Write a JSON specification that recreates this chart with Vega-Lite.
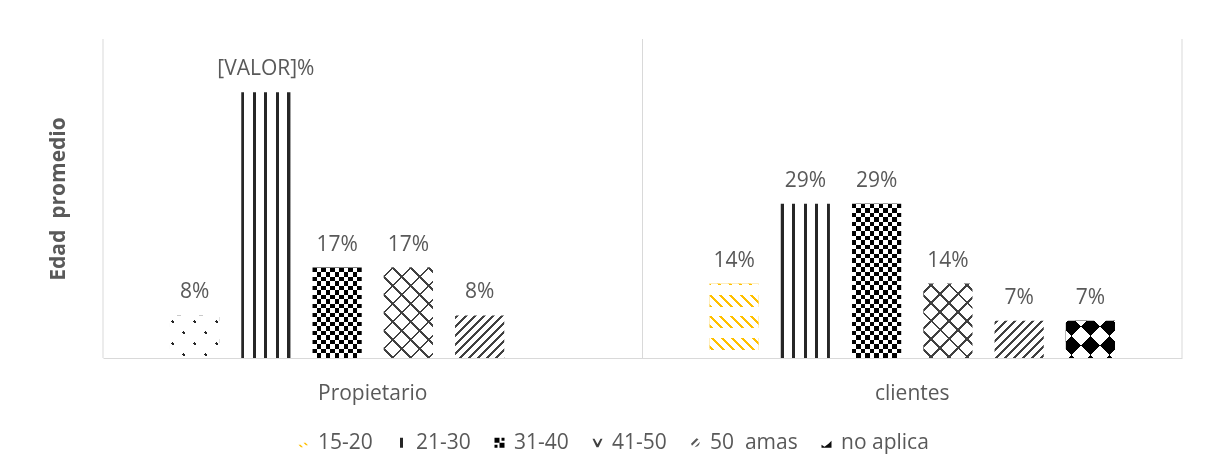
{
  "$schema": "https://vega.github.io/schema/vega-lite/v6.json",
  "width": 1079,
  "height": 319,
  "autosize": {"type": "none"},
  "padding": {"left": 103, "top": 39, "right": 27, "bottom": 118},
  "background": "#ffffff",
  "config": {
    "font": "Open Sans",
    "view": {"stroke": null}
  },
  "data": {
    "values": [
      {"grupo": "Propietario", "categoria": "15-20", "valor": 0.08, "etiqueta": "8%"},
      {"grupo": "Propietario", "categoria": "21-30", "valor": 0.50, "etiqueta": "[VALOR]%"},
      {"grupo": "Propietario", "categoria": "31-40", "valor": 0.17, "etiqueta": "17%"},
      {"grupo": "Propietario", "categoria": "41-50", "valor": 0.17, "etiqueta": "17%"},
      {"grupo": "Propietario", "categoria": "50 amas", "valor": 0.08, "etiqueta": "8%"},
      {"grupo": "Propietario", "categoria": "no aplica", "valor": 0, "etiqueta": ""},
      {"grupo": "clientes", "categoria": "15-20", "valor": 0.14, "etiqueta": "14%"},
      {"grupo": "clientes", "categoria": "21-30", "valor": 0.29, "etiqueta": "29%"},
      {"grupo": "clientes", "categoria": "31-40", "valor": 0.29, "etiqueta": "29%"},
      {"grupo": "clientes", "categoria": "41-50", "valor": 0.14, "etiqueta": "14%"},
      {"grupo": "clientes", "categoria": "50 amas", "valor": 0.07, "etiqueta": "7%"},
      {"grupo": "clientes", "categoria": "no aplica", "valor": 0.07, "etiqueta": "7%"}
    ]
  },
  "encoding": {
    "x": {
      "field": "grupo",
      "type": "nominal",
      "scale": {"domain": ["Propietario", "clientes"], "paddingInner": 0, "paddingOuter": 0},
      "axis": {
        "title": null,
        "labelFont": "Open Sans",
        "labelFontSize": 21,
        "labelColor": "#595959",
        "labelAngle": 0,
        "ticks": false,
        "labelPadding": 24,
        "domainColor": "#d9d9d9",
        "domainWidth": 1,
        "grid": false
      }
    }
  },
  "layer": [
    {
      "transform": [{"filter": "datum.categoria === '21-30'"}],
      "mark": {"type": "rule", "color": "#d9d9d9", "strokeWidth": 1},
      "encoding": {"x": {"field": "grupo", "type": "nominal", "bandPosition": 0}}
    },
    {
      "transform": [{"filter": "datum.categoria === '21-30' && datum.grupo === 'clientes'"}],
      "mark": {"type": "rule", "color": "#d9d9d9", "strokeWidth": 1},
      "encoding": {"x": {"field": "grupo", "type": "nominal", "bandPosition": 1}}
    },
    {
      "encoding": {
        "xOffset": {
          "field": "categoria",
          "type": "nominal",
          "scale": {
            "domain": ["15-20", "21-30", "31-40", "41-50", "50 amas", "no aplica"],
            "paddingInner": 0.31,
            "paddingOuter": 0.94
          }
        },
        "y": {
          "field": "valor",
          "type": "quantitative",
          "stack": null,
          "scale": {"domain": [0, 0.6], "nice": false, "zero": true},
          "axis": {
            "title": "Edad\u00a0 promedio",
            "titleFont": "Open Sans",
            "titleFontSize": 21,
            "titleFontWeight": "bold",
            "titleColor": "#595959",
            "titlePadding": 35,
            "labels": false,
            "ticks": false,
            "domain": false,
            "grid": false
          }
        }
      },
      "layer": [
        {
          "transform": [{"filter": "datum.valor > 1"}],
          "mark": {"type": "bar"},
          "encoding": {
            "color": {
              "field": "categoria",
              "type": "nominal",
              "scale": {
                "domain": ["15-20", "21-30", "31-40", "41-50", "50 amas", "no aplica"],
                "range": ["#ffc000", "#262626", "#000000", "#404040", "#595959", "#0d0d0d"]
              },
              "legend": {
                "orient": "none",
                "legendX": 190,
                "legendY": 393,
                "direction": "horizontal",
                "columns": 6,
                "title": null,
                "padding": 0,
                "labelFont": "Open Sans",
                "labelFontSize": 21,
                "labelColor": "#595959",
                "labelOffset": 4,
                "columnPadding": 18,
                "symbolSize": 100,
                "symbolStrokeWidth": 0,
                "labelExpr": "datum.label === '50 amas' ? '50\u00a0 amas' : datum.label",
                "encode": {
                  "symbols": {
                    "update": {
                      "shape": {
                        "signal": "datum.value === '15-20' ? 'M-1,0.4L-0.6,0.4L-0.1,0.9L-0.5,0.9Z M0,0L0.4,0L0.9,0.5L0.5,0.5Z' : datum.value === '21-30' ? 'M-0.3,-1H0.3V1H-0.3Z' : datum.value === '31-40' ? 'M-1,-1H0V0H-1Z M0,0H1V1H0Z M0.4,-1H1V-0.4H0.4Z M-1,0.4H-0.4V1H-1Z' : datum.value === '41-50' ? 'M-1,-0.8H-0.6L0,0.3L0.6,-0.8H1L0.2,0.9H-0.2Z' : datum.value === '50 amas' ? 'M-0.9,0.2L0.2,-0.9L0.6,-0.7L-0.7,0.6Z M-0.2,0.9L0.9,-0.2L0.7,0.4L0.4,0.7Z' : 'M-1,1V0.4L-0.4,0.8L0.4,0.2L1,-0.4V1Z'"
                      }
                    }
                  }
                }
              }
            }
          }
        },
        {
          "mark": {"type": "bar"},
          "encoding": {
            "fill": {
              "condition": [
                {
                  "test": "datum.categoria === '15-20' && datum.grupo === 'Propietario'",
                  "value": {"gradient": "linear", "x1": 0, "y1": 0, "x2": 1.0668, "y2": 0.9228, "stops": [
                    {"offset": 0, "color": "#ffffff"}, {"offset": 0.0785, "color": "#ffffff"}, {"offset": 0.0785, "color": "#262626"}, {"offset": 0.1178, "color": "#262626"}, {"offset": 0.1178, "color": "#ffffff"},
                    {"offset": 0.3184, "color": "#ffffff"}, {"offset": 0.3184, "color": "#262626"}, {"offset": 0.3577, "color": "#262626"}, {"offset": 0.3577, "color": "#ffffff"},
                    {"offset": 0.5583, "color": "#ffffff"}, {"offset": 0.5583, "color": "#262626"}, {"offset": 0.5976, "color": "#262626"}, {"offset": 0.5976, "color": "#ffffff"},
                    {"offset": 0.7982, "color": "#ffffff"}, {"offset": 0.7982, "color": "#262626"}, {"offset": 0.8375, "color": "#262626"}, {"offset": 0.8375, "color": "#ffffff"}, {"offset": 1, "color": "#ffffff"}
                  ]}
                },
                {
                  "test": "datum.categoria === '15-20'",
                  "value": {"gradient": "linear", "x1": 0, "y1": 0, "x2": 0, "y2": 1, "stops": [
                    {"offset": 0, "color": "#ffc000"}, {"offset": 0.02, "color": "#ffc000"}, {"offset": 0.02, "color": "#ffffff"},
                    {"offset": 0.148, "color": "#ffffff"}, {"offset": 0.148, "color": "#ffc000"}, {"offset": 0.309, "color": "#ffc000"}, {"offset": 0.309, "color": "#ffffff"},
                    {"offset": 0.437, "color": "#ffffff"}, {"offset": 0.437, "color": "#ffc000"}, {"offset": 0.598, "color": "#ffc000"}, {"offset": 0.598, "color": "#ffffff"},
                    {"offset": 0.726, "color": "#ffffff"}, {"offset": 0.726, "color": "#ffc000"}, {"offset": 0.887, "color": "#ffc000"}, {"offset": 0.887, "color": "#ffffff"}, {"offset": 1, "color": "#ffffff"}
                  ]}
                },
                {
                  "test": "datum.categoria === '21-30'",
                  "value": {"gradient": "linear", "x1": 0, "y1": 0, "x2": 1, "y2": 0, "stops": [
                    {"offset": 0, "color": "#262626"}, {"offset": 0.06, "color": "#262626"}, {"offset": 0.06, "color": "#ffffff"},
                    {"offset": 0.235, "color": "#ffffff"}, {"offset": 0.235, "color": "#262626"}, {"offset": 0.295, "color": "#262626"}, {"offset": 0.295, "color": "#ffffff"},
                    {"offset": 0.47, "color": "#ffffff"}, {"offset": 0.47, "color": "#262626"}, {"offset": 0.53, "color": "#262626"}, {"offset": 0.53, "color": "#ffffff"},
                    {"offset": 0.705, "color": "#ffffff"}, {"offset": 0.705, "color": "#262626"}, {"offset": 0.765, "color": "#262626"}, {"offset": 0.765, "color": "#ffffff"},
                    {"offset": 0.94, "color": "#ffffff"}, {"offset": 0.94, "color": "#262626"}, {"offset": 1, "color": "#262626"}
                  ]}
                },
                {
                  "test": "datum.categoria === '31-40' && datum.grupo === 'Propietario'",
                  "value": {"gradient": "linear", "x1": 0, "y1": 0, "x2": 0, "y2": 1, "stops": [
                    {"offset": 0, "color": "#000000"}, {"offset": 0.05, "color": "#000000"}, {"offset": 0.05, "color": "#ffffff"}, {"offset": 0.1, "color": "#ffffff"},
                    {"offset": 0.1, "color": "#000000"}, {"offset": 0.15, "color": "#000000"}, {"offset": 0.15, "color": "#ffffff"}, {"offset": 0.2, "color": "#ffffff"},
                    {"offset": 0.2, "color": "#000000"}, {"offset": 0.25, "color": "#000000"}, {"offset": 0.25, "color": "#ffffff"}, {"offset": 0.3, "color": "#ffffff"},
                    {"offset": 0.3, "color": "#000000"}, {"offset": 0.35, "color": "#000000"}, {"offset": 0.35, "color": "#ffffff"}, {"offset": 0.4, "color": "#ffffff"},
                    {"offset": 0.4, "color": "#000000"}, {"offset": 0.45, "color": "#000000"}, {"offset": 0.45, "color": "#ffffff"}, {"offset": 0.5, "color": "#ffffff"},
                    {"offset": 0.5, "color": "#000000"}, {"offset": 0.55, "color": "#000000"}, {"offset": 0.55, "color": "#ffffff"}, {"offset": 0.6, "color": "#ffffff"},
                    {"offset": 0.6, "color": "#000000"}, {"offset": 0.65, "color": "#000000"}, {"offset": 0.65, "color": "#ffffff"}, {"offset": 0.7, "color": "#ffffff"},
                    {"offset": 0.7, "color": "#000000"}, {"offset": 0.75, "color": "#000000"}, {"offset": 0.75, "color": "#ffffff"}, {"offset": 0.8, "color": "#ffffff"},
                    {"offset": 0.8, "color": "#000000"}, {"offset": 0.85, "color": "#000000"}, {"offset": 0.85, "color": "#ffffff"}, {"offset": 0.9, "color": "#ffffff"},
                    {"offset": 0.9, "color": "#000000"}, {"offset": 0.95, "color": "#000000"}, {"offset": 0.95, "color": "#ffffff"}, {"offset": 1, "color": "#ffffff"}
                  ]}
                },
                {
                  "test": "datum.categoria === '31-40'",
                  "value": {"gradient": "linear", "x1": 0, "y1": 0, "x2": 0, "y2": 1, "stops": [
                    {"offset": 0, "color": "#000000"}, {"offset": 0.0294, "color": "#000000"}, {"offset": 0.0294, "color": "#ffffff"}, {"offset": 0.0588, "color": "#ffffff"},
                    {"offset": 0.0588, "color": "#000000"}, {"offset": 0.0882, "color": "#000000"}, {"offset": 0.0882, "color": "#ffffff"}, {"offset": 0.1176, "color": "#ffffff"},
                    {"offset": 0.1176, "color": "#000000"}, {"offset": 0.1471, "color": "#000000"}, {"offset": 0.1471, "color": "#ffffff"}, {"offset": 0.1765, "color": "#ffffff"},
                    {"offset": 0.1765, "color": "#000000"}, {"offset": 0.2059, "color": "#000000"}, {"offset": 0.2059, "color": "#ffffff"}, {"offset": 0.2353, "color": "#ffffff"},
                    {"offset": 0.2353, "color": "#000000"}, {"offset": 0.2647, "color": "#000000"}, {"offset": 0.2647, "color": "#ffffff"}, {"offset": 0.2941, "color": "#ffffff"},
                    {"offset": 0.2941, "color": "#000000"}, {"offset": 0.3235, "color": "#000000"}, {"offset": 0.3235, "color": "#ffffff"}, {"offset": 0.3529, "color": "#ffffff"},
                    {"offset": 0.3529, "color": "#000000"}, {"offset": 0.3824, "color": "#000000"}, {"offset": 0.3824, "color": "#ffffff"}, {"offset": 0.4118, "color": "#ffffff"},
                    {"offset": 0.4118, "color": "#000000"}, {"offset": 0.4412, "color": "#000000"}, {"offset": 0.4412, "color": "#ffffff"}, {"offset": 0.4706, "color": "#ffffff"},
                    {"offset": 0.4706, "color": "#000000"}, {"offset": 0.5, "color": "#000000"}, {"offset": 0.5, "color": "#ffffff"}, {"offset": 0.5294, "color": "#ffffff"},
                    {"offset": 0.5294, "color": "#000000"}, {"offset": 0.5588, "color": "#000000"}, {"offset": 0.5588, "color": "#ffffff"}, {"offset": 0.5882, "color": "#ffffff"},
                    {"offset": 0.5882, "color": "#000000"}, {"offset": 0.6176, "color": "#000000"}, {"offset": 0.6176, "color": "#ffffff"}, {"offset": 0.6471, "color": "#ffffff"},
                    {"offset": 0.6471, "color": "#000000"}, {"offset": 0.6765, "color": "#000000"}, {"offset": 0.6765, "color": "#ffffff"}, {"offset": 0.7059, "color": "#ffffff"},
                    {"offset": 0.7059, "color": "#000000"}, {"offset": 0.7353, "color": "#000000"}, {"offset": 0.7353, "color": "#ffffff"}, {"offset": 0.7647, "color": "#ffffff"},
                    {"offset": 0.7647, "color": "#000000"}, {"offset": 0.7941, "color": "#000000"}, {"offset": 0.7941, "color": "#ffffff"}, {"offset": 0.8235, "color": "#ffffff"},
                    {"offset": 0.8235, "color": "#000000"}, {"offset": 0.8529, "color": "#000000"}, {"offset": 0.8529, "color": "#ffffff"}, {"offset": 0.8824, "color": "#ffffff"},
                    {"offset": 0.8824, "color": "#000000"}, {"offset": 0.9118, "color": "#000000"}, {"offset": 0.9118, "color": "#ffffff"}, {"offset": 0.9412, "color": "#ffffff"},
                    {"offset": 0.9412, "color": "#000000"}, {"offset": 0.9706, "color": "#000000"}, {"offset": 0.9706, "color": "#ffffff"}, {"offset": 1, "color": "#ffffff"}
                  ]}
                },
                {
                  "test": "datum.categoria === '41-50' && datum.grupo === 'Propietario'",
                  "value": {"gradient": "linear", "x1": 0, "y1": 0, "x2": 0.6482, "y2": 1.1914, "stops": [
                    {"offset": 0, "color": "#ffffff"}, {"offset": 0.0552, "color": "#ffffff"}, {"offset": 0.0552, "color": "#404040"}, {"offset": 0.0738, "color": "#404040"}, {"offset": 0.0738, "color": "#ffffff"},
                    {"offset": 0.1842, "color": "#ffffff"}, {"offset": 0.1842, "color": "#404040"}, {"offset": 0.2028, "color": "#404040"}, {"offset": 0.2028, "color": "#ffffff"},
                    {"offset": 0.3131, "color": "#ffffff"}, {"offset": 0.3131, "color": "#404040"}, {"offset": 0.3318, "color": "#404040"}, {"offset": 0.3318, "color": "#ffffff"},
                    {"offset": 0.4421, "color": "#ffffff"}, {"offset": 0.4421, "color": "#404040"}, {"offset": 0.4608, "color": "#404040"}, {"offset": 0.4608, "color": "#ffffff"},
                    {"offset": 0.5711, "color": "#ffffff"}, {"offset": 0.5711, "color": "#404040"}, {"offset": 0.5897, "color": "#404040"}, {"offset": 0.5897, "color": "#ffffff"},
                    {"offset": 0.7001, "color": "#ffffff"}, {"offset": 0.7001, "color": "#404040"}, {"offset": 0.7187, "color": "#404040"}, {"offset": 0.7187, "color": "#ffffff"},
                    {"offset": 0.8291, "color": "#ffffff"}, {"offset": 0.8291, "color": "#404040"}, {"offset": 0.8477, "color": "#404040"}, {"offset": 0.8477, "color": "#ffffff"},
                    {"offset": 0.9581, "color": "#ffffff"}, {"offset": 0.9581, "color": "#404040"}, {"offset": 0.9767, "color": "#404040"}, {"offset": 0.9767, "color": "#ffffff"}, {"offset": 1, "color": "#ffffff"}
                  ]}
                },
                {
                  "test": "datum.categoria === '41-50'",
                  "value": {"gradient": "linear", "x1": 0, "y1": 0, "x2": 0.7637, "y2": 1.156, "stops": [
                    {"offset": 0, "color": "#ffffff"}, {"offset": 0.0623, "color": "#ffffff"}, {"offset": 0.0623, "color": "#404040"}, {"offset": 0.0833, "color": "#404040"}, {"offset": 0.0833, "color": "#ffffff"},
                    {"offset": 0.2079, "color": "#ffffff"}, {"offset": 0.2079, "color": "#404040"}, {"offset": 0.229, "color": "#404040"}, {"offset": 0.229, "color": "#ffffff"},
                    {"offset": 0.3536, "color": "#ffffff"}, {"offset": 0.3536, "color": "#404040"}, {"offset": 0.3746, "color": "#404040"}, {"offset": 0.3746, "color": "#ffffff"},
                    {"offset": 0.4992, "color": "#ffffff"}, {"offset": 0.4992, "color": "#404040"}, {"offset": 0.5202, "color": "#404040"}, {"offset": 0.5202, "color": "#ffffff"},
                    {"offset": 0.6448, "color": "#ffffff"}, {"offset": 0.6448, "color": "#404040"}, {"offset": 0.6659, "color": "#404040"}, {"offset": 0.6659, "color": "#ffffff"},
                    {"offset": 0.7905, "color": "#ffffff"}, {"offset": 0.7905, "color": "#404040"}, {"offset": 0.8115, "color": "#404040"}, {"offset": 0.8115, "color": "#ffffff"},
                    {"offset": 0.9361, "color": "#ffffff"}, {"offset": 0.9361, "color": "#404040"}, {"offset": 0.9571, "color": "#404040"}, {"offset": 0.9571, "color": "#ffffff"}, {"offset": 1, "color": "#ffffff"}
                  ]}
                },
                {
                  "test": "datum.categoria === '50 amas' && datum.grupo === 'Propietario'",
                  "value": {"gradient": "linear", "x1": 0, "y1": 0, "x2": 1.0668, "y2": 0.9228, "stops": [
                    {"offset": 0, "color": "#ffffff"}, {"offset": 0.0109, "color": "#ffffff"}, {"offset": 0.0109, "color": "#404040"}, {"offset": 0.0436, "color": "#404040"}, {"offset": 0.0436, "color": "#ffffff"},
                    {"offset": 0.1091, "color": "#ffffff"}, {"offset": 0.1091, "color": "#404040"}, {"offset": 0.1418, "color": "#404040"}, {"offset": 0.1418, "color": "#ffffff"},
                    {"offset": 0.2072, "color": "#ffffff"}, {"offset": 0.2072, "color": "#404040"}, {"offset": 0.2399, "color": "#404040"}, {"offset": 0.2399, "color": "#ffffff"},
                    {"offset": 0.3053, "color": "#ffffff"}, {"offset": 0.3053, "color": "#404040"}, {"offset": 0.3381, "color": "#404040"}, {"offset": 0.3381, "color": "#ffffff"},
                    {"offset": 0.4035, "color": "#ffffff"}, {"offset": 0.4035, "color": "#404040"}, {"offset": 0.4362, "color": "#404040"}, {"offset": 0.4362, "color": "#ffffff"},
                    {"offset": 0.5016, "color": "#ffffff"}, {"offset": 0.5016, "color": "#404040"}, {"offset": 0.5344, "color": "#404040"}, {"offset": 0.5344, "color": "#ffffff"},
                    {"offset": 0.5998, "color": "#ffffff"}, {"offset": 0.5998, "color": "#404040"}, {"offset": 0.6325, "color": "#404040"}, {"offset": 0.6325, "color": "#ffffff"},
                    {"offset": 0.6979, "color": "#ffffff"}, {"offset": 0.6979, "color": "#404040"}, {"offset": 0.7306, "color": "#404040"}, {"offset": 0.7306, "color": "#ffffff"},
                    {"offset": 0.7961, "color": "#ffffff"}, {"offset": 0.7961, "color": "#404040"}, {"offset": 0.8288, "color": "#404040"}, {"offset": 0.8288, "color": "#ffffff"},
                    {"offset": 0.8942, "color": "#ffffff"}, {"offset": 0.8942, "color": "#404040"}, {"offset": 0.9269, "color": "#404040"}, {"offset": 0.9269, "color": "#ffffff"},
                    {"offset": 0.9924, "color": "#ffffff"}, {"offset": 0.9924, "color": "#404040"}, {"offset": 1, "color": "#404040"}
                  ]}
                },
                {
                  "test": "datum.categoria === '50 amas'",
                  "value": {"gradient": "linear", "x1": 0, "y1": 0, "x2": 1.117, "y2": 0.8455, "stops": [
                    {"offset": 0, "color": "#ffffff"}, {"offset": 0.0116, "color": "#ffffff"}, {"offset": 0.0116, "color": "#404040"}, {"offset": 0.0463, "color": "#404040"}, {"offset": 0.0463, "color": "#ffffff"},
                    {"offset": 0.1158, "color": "#ffffff"}, {"offset": 0.1158, "color": "#404040"}, {"offset": 0.1505, "color": "#404040"}, {"offset": 0.1505, "color": "#ffffff"},
                    {"offset": 0.2199, "color": "#ffffff"}, {"offset": 0.2199, "color": "#404040"}, {"offset": 0.2547, "color": "#404040"}, {"offset": 0.2547, "color": "#ffffff"},
                    {"offset": 0.3241, "color": "#ffffff"}, {"offset": 0.3241, "color": "#404040"}, {"offset": 0.3588, "color": "#404040"}, {"offset": 0.3588, "color": "#ffffff"},
                    {"offset": 0.4283, "color": "#ffffff"}, {"offset": 0.4283, "color": "#404040"}, {"offset": 0.463, "color": "#404040"}, {"offset": 0.463, "color": "#ffffff"},
                    {"offset": 0.5325, "color": "#ffffff"}, {"offset": 0.5325, "color": "#404040"}, {"offset": 0.5672, "color": "#404040"}, {"offset": 0.5672, "color": "#ffffff"},
                    {"offset": 0.6366, "color": "#ffffff"}, {"offset": 0.6366, "color": "#404040"}, {"offset": 0.6714, "color": "#404040"}, {"offset": 0.6714, "color": "#ffffff"},
                    {"offset": 0.7408, "color": "#ffffff"}, {"offset": 0.7408, "color": "#404040"}, {"offset": 0.7756, "color": "#404040"}, {"offset": 0.7756, "color": "#ffffff"},
                    {"offset": 0.845, "color": "#ffffff"}, {"offset": 0.845, "color": "#404040"}, {"offset": 0.8797, "color": "#404040"}, {"offset": 0.8797, "color": "#ffffff"},
                    {"offset": 0.9492, "color": "#ffffff"}, {"offset": 0.9492, "color": "#404040"}, {"offset": 0.9839, "color": "#404040"}, {"offset": 0.9839, "color": "#ffffff"}, {"offset": 1, "color": "#ffffff"}
                  ]}
                },
                {
                  "test": "datum.categoria === 'no aplica'",
                  "value": {"gradient": "linear", "x1": 0, "y1": 0, "x2": 1.117, "y2": 0.8455, "stops": [
                    {"offset": 0, "color": "#ffffff"}, {"offset": 0.023, "color": "#ffffff"}, {"offset": 0.023, "color": "#000000"}, {"offset": 0.243, "color": "#000000"}, {"offset": 0.243, "color": "#ffffff"},
                    {"offset": 0.463, "color": "#ffffff"}, {"offset": 0.463, "color": "#000000"}, {"offset": 0.683, "color": "#000000"}, {"offset": 0.683, "color": "#ffffff"},
                    {"offset": 0.903, "color": "#ffffff"}, {"offset": 0.903, "color": "#000000"}, {"offset": 1, "color": "#000000"}
                  ]}
                }
              ],
              "value": "#ffffff"
            }
          }
        },
        {
          "transform": [{"filter": "datum.categoria === '15-20' || datum.categoria === '41-50'"}],
          "mark": {"type": "bar"},
          "encoding": {
            "fill": {
              "condition": [
                {
                  "test": "datum.categoria === '15-20' && datum.grupo === 'Propietario'",
                  "value": {"gradient": "linear", "x1": 0, "y1": 1, "x2": 1.0668, "y2": 0.0772, "stops": [
                    {"offset": 0, "color": "#ffffff"}, {"offset": 0.1657, "color": "#ffffff"}, {"offset": 0.1657, "color": "rgba(255,255,255,0)"}, {"offset": 0.205, "color": "rgba(255,255,255,0)"}, {"offset": 0.205, "color": "#ffffff"},
                    {"offset": 0.4056, "color": "#ffffff"}, {"offset": 0.4056, "color": "rgba(255,255,255,0)"}, {"offset": 0.445, "color": "rgba(255,255,255,0)"}, {"offset": 0.445, "color": "#ffffff"},
                    {"offset": 0.6456, "color": "#ffffff"}, {"offset": 0.6456, "color": "rgba(255,255,255,0)"}, {"offset": 0.6849, "color": "rgba(255,255,255,0)"}, {"offset": 0.6849, "color": "#ffffff"},
                    {"offset": 0.8855, "color": "#ffffff"}, {"offset": 0.8855, "color": "rgba(255,255,255,0)"}, {"offset": 0.9248, "color": "rgba(255,255,255,0)"}, {"offset": 0.9248, "color": "#ffffff"}, {"offset": 1, "color": "#ffffff"}
                  ]}
                },
                {
                  "test": "datum.categoria === '15-20'",
                  "value": {"gradient": "linear", "x1": 0, "y1": 1, "x2": 0.7637, "y2": -0.156, "stops": [
                    {"offset": 0, "color": "rgba(255,255,255,0)"}, {"offset": 0.024, "color": "rgba(255,255,255,0)"}, {"offset": 0.024, "color": "#ffffff"},
                    {"offset": 0.0833, "color": "#ffffff"}, {"offset": 0.0833, "color": "rgba(255,255,255,0)"}, {"offset": 0.1073, "color": "rgba(255,255,255,0)"}, {"offset": 0.1073, "color": "#ffffff"},
                    {"offset": 0.1667, "color": "#ffffff"}, {"offset": 0.1667, "color": "rgba(255,255,255,0)"}, {"offset": 0.1907, "color": "rgba(255,255,255,0)"}, {"offset": 0.1907, "color": "#ffffff"},
                    {"offset": 0.25, "color": "#ffffff"}, {"offset": 0.25, "color": "rgba(255,255,255,0)"}, {"offset": 0.274, "color": "rgba(255,255,255,0)"}, {"offset": 0.274, "color": "#ffffff"},
                    {"offset": 0.3333, "color": "#ffffff"}, {"offset": 0.3333, "color": "rgba(255,255,255,0)"}, {"offset": 0.3573, "color": "rgba(255,255,255,0)"}, {"offset": 0.3573, "color": "#ffffff"},
                    {"offset": 0.4167, "color": "#ffffff"}, {"offset": 0.4167, "color": "rgba(255,255,255,0)"}, {"offset": 0.4407, "color": "rgba(255,255,255,0)"}, {"offset": 0.4407, "color": "#ffffff"},
                    {"offset": 0.5, "color": "#ffffff"}, {"offset": 0.5, "color": "rgba(255,255,255,0)"}, {"offset": 0.524, "color": "rgba(255,255,255,0)"}, {"offset": 0.524, "color": "#ffffff"},
                    {"offset": 0.5833, "color": "#ffffff"}, {"offset": 0.5833, "color": "rgba(255,255,255,0)"}, {"offset": 0.6073, "color": "rgba(255,255,255,0)"}, {"offset": 0.6073, "color": "#ffffff"},
                    {"offset": 0.6667, "color": "#ffffff"}, {"offset": 0.6667, "color": "rgba(255,255,255,0)"}, {"offset": 0.6907, "color": "rgba(255,255,255,0)"}, {"offset": 0.6907, "color": "#ffffff"},
                    {"offset": 0.75, "color": "#ffffff"}, {"offset": 0.75, "color": "rgba(255,255,255,0)"}, {"offset": 0.774, "color": "rgba(255,255,255,0)"}, {"offset": 0.774, "color": "#ffffff"},
                    {"offset": 0.8333, "color": "#ffffff"}, {"offset": 0.8333, "color": "rgba(255,255,255,0)"}, {"offset": 0.8573, "color": "rgba(255,255,255,0)"}, {"offset": 0.8573, "color": "#ffffff"},
                    {"offset": 0.9167, "color": "#ffffff"}, {"offset": 0.9167, "color": "rgba(255,255,255,0)"}, {"offset": 0.9407, "color": "rgba(255,255,255,0)"}, {"offset": 0.9407, "color": "#ffffff"}, {"offset": 1, "color": "#ffffff"}
                  ]}
                },
                {
                  "test": "datum.categoria === '41-50' && datum.grupo === 'Propietario'",
                  "value": {"gradient": "linear", "x1": 0, "y1": 1, "x2": 0.6482, "y2": -0.1914, "stops": [
                    {"offset": 0, "color": "rgba(255,255,255,0)"}, {"offset": 0.0552, "color": "rgba(255,255,255,0)"}, {"offset": 0.0552, "color": "#404040"}, {"offset": 0.0738, "color": "#404040"}, {"offset": 0.0738, "color": "rgba(255,255,255,0)"},
                    {"offset": 0.1842, "color": "rgba(255,255,255,0)"}, {"offset": 0.1842, "color": "#404040"}, {"offset": 0.2028, "color": "#404040"}, {"offset": 0.2028, "color": "rgba(255,255,255,0)"},
                    {"offset": 0.3131, "color": "rgba(255,255,255,0)"}, {"offset": 0.3131, "color": "#404040"}, {"offset": 0.3318, "color": "#404040"}, {"offset": 0.3318, "color": "rgba(255,255,255,0)"},
                    {"offset": 0.4421, "color": "rgba(255,255,255,0)"}, {"offset": 0.4421, "color": "#404040"}, {"offset": 0.4608, "color": "#404040"}, {"offset": 0.4608, "color": "rgba(255,255,255,0)"},
                    {"offset": 0.5711, "color": "rgba(255,255,255,0)"}, {"offset": 0.5711, "color": "#404040"}, {"offset": 0.5897, "color": "#404040"}, {"offset": 0.5897, "color": "rgba(255,255,255,0)"},
                    {"offset": 0.7001, "color": "rgba(255,255,255,0)"}, {"offset": 0.7001, "color": "#404040"}, {"offset": 0.7187, "color": "#404040"}, {"offset": 0.7187, "color": "rgba(255,255,255,0)"},
                    {"offset": 0.8291, "color": "rgba(255,255,255,0)"}, {"offset": 0.8291, "color": "#404040"}, {"offset": 0.8477, "color": "#404040"}, {"offset": 0.8477, "color": "rgba(255,255,255,0)"},
                    {"offset": 0.9581, "color": "rgba(255,255,255,0)"}, {"offset": 0.9581, "color": "#404040"}, {"offset": 0.9767, "color": "#404040"}, {"offset": 0.9767, "color": "rgba(255,255,255,0)"}, {"offset": 1, "color": "rgba(255,255,255,0)"}
                  ]}
                }
              ],
              "value": {"gradient": "linear", "x1": 0, "y1": 1, "x2": 0.7637, "y2": -0.156, "stops": [
                {"offset": 0, "color": "rgba(255,255,255,0)"}, {"offset": 0.0623, "color": "rgba(255,255,255,0)"}, {"offset": 0.0623, "color": "#404040"}, {"offset": 0.0833, "color": "#404040"}, {"offset": 0.0833, "color": "rgba(255,255,255,0)"},
                {"offset": 0.2079, "color": "rgba(255,255,255,0)"}, {"offset": 0.2079, "color": "#404040"}, {"offset": 0.229, "color": "#404040"}, {"offset": 0.229, "color": "rgba(255,255,255,0)"},
                {"offset": 0.3536, "color": "rgba(255,255,255,0)"}, {"offset": 0.3536, "color": "#404040"}, {"offset": 0.3746, "color": "#404040"}, {"offset": 0.3746, "color": "rgba(255,255,255,0)"},
                {"offset": 0.4992, "color": "rgba(255,255,255,0)"}, {"offset": 0.4992, "color": "#404040"}, {"offset": 0.5202, "color": "#404040"}, {"offset": 0.5202, "color": "rgba(255,255,255,0)"},
                {"offset": 0.6448, "color": "rgba(255,255,255,0)"}, {"offset": 0.6448, "color": "#404040"}, {"offset": 0.6659, "color": "#404040"}, {"offset": 0.6659, "color": "rgba(255,255,255,0)"},
                {"offset": 0.7905, "color": "rgba(255,255,255,0)"}, {"offset": 0.7905, "color": "#404040"}, {"offset": 0.8115, "color": "#404040"}, {"offset": 0.8115, "color": "rgba(255,255,255,0)"},
                {"offset": 0.9361, "color": "rgba(255,255,255,0)"}, {"offset": 0.9361, "color": "#404040"}, {"offset": 0.9571, "color": "#404040"}, {"offset": 0.9571, "color": "rgba(255,255,255,0)"}, {"offset": 1, "color": "rgba(255,255,255,0)"}
              ]}
            }
          }
        },
        {
          "transform": [{"filter": "datum.categoria === '31-40' || datum.categoria === 'no aplica'"}],
          "mark": {"type": "bar", "blend": "difference"},
          "encoding": {
            "fill": {
              "condition": [
                {
                  "test": "datum.categoria === 'no aplica'",
                  "value": {"gradient": "linear", "x1": 0, "y1": 1, "x2": 1.117, "y2": 0.1545, "stops": [
                    {"offset": 0, "color": "#000000"}, {"offset": 0.097, "color": "#000000"}, {"offset": 0.097, "color": "#ffffff"}, {"offset": 0.317, "color": "#ffffff"}, {"offset": 0.317, "color": "#000000"},
                    {"offset": 0.537, "color": "#000000"}, {"offset": 0.537, "color": "#ffffff"}, {"offset": 0.757, "color": "#ffffff"}, {"offset": 0.757, "color": "#000000"},
                    {"offset": 0.977, "color": "#000000"}, {"offset": 0.977, "color": "#ffffff"}, {"offset": 1, "color": "#ffffff"}
                  ]}
                }
              ],
              "value": {"gradient": "linear", "x1": 0, "y1": 0, "x2": 1, "y2": 0, "stops": [
                {"offset": 0, "color": "#000000"}, {"offset": 0.0909, "color": "#000000"}, {"offset": 0.0909, "color": "#ffffff"}, {"offset": 0.1818, "color": "#ffffff"},
                {"offset": 0.1818, "color": "#000000"}, {"offset": 0.2727, "color": "#000000"}, {"offset": 0.2727, "color": "#ffffff"}, {"offset": 0.3636, "color": "#ffffff"},
                {"offset": 0.3636, "color": "#000000"}, {"offset": 0.4545, "color": "#000000"}, {"offset": 0.4545, "color": "#ffffff"}, {"offset": 0.5455, "color": "#ffffff"},
                {"offset": 0.5455, "color": "#000000"}, {"offset": 0.6364, "color": "#000000"}, {"offset": 0.6364, "color": "#ffffff"}, {"offset": 0.7273, "color": "#ffffff"},
                {"offset": 0.7273, "color": "#000000"}, {"offset": 0.8182, "color": "#000000"}, {"offset": 0.8182, "color": "#ffffff"}, {"offset": 0.9091, "color": "#ffffff"},
                {"offset": 0.9091, "color": "#000000"}, {"offset": 1, "color": "#000000"}
              ]}
            }
          }
        },
        {
          "transform": [{"filter": "datum.valor > 0"}],
          "mark": {"type": "text", "font": "Open Sans", "fontSize": 21, "color": "#595959", "baseline": "alphabetic", "dy": -17},
          "encoding": {"text": {"field": "etiqueta", "type": "nominal"}}
        }
      ]
    }
  ]
}
